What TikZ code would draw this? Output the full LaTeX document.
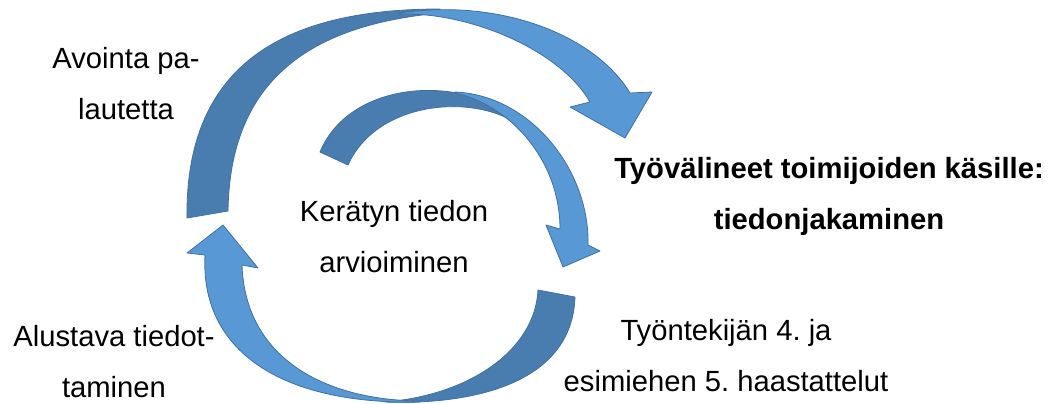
\documentclass[tikz,border=0pt]{standalone}
\usepackage{fontspec}
\setmainfont{Liberation Sans}
\frenchspacing
\definecolor{backblue}{RGB}{73,125,176}
\definecolor{frontblue}{RGB}{88,152,212}
\definecolor{edgeblue}{RGB}{65,113,160}

\begin{document}
\begin{tikzpicture}[x=0.5pt,y=-0.5pt,
  back/.style={fill=backblue,draw=edgeblue,line width=0.4pt,line join=round},
  front/.style={fill=frontblue,draw=edgeblue,line width=0.4pt,line join=round},
  lbl/.style={align=center,inner sep=0pt,font=\fontsize{14.6}{25.5}\selectfont}]
 \useasboundingbox (0,0) rectangle (1053,403);
 % big upper arrow
 \filldraw[back] (187,218) .. controls (185,60) and (290,9) .. (440,9)
   -- (440,13) .. controls (310,25) and (230,80) .. (228,211) -- cycle;
 \filldraw[front] (400,13) .. controls (500,-2) and (595,35) .. (630,93)
   -- (652,92) -- (625,138) -- (570,107) -- (590,102)
   .. controls (560,50) and (470,12) .. (400,14) -- cycle;
 % inner arrow
 \filldraw[back] (320,152) .. controls (350,80) and (460,75) .. (513,117)
   -- (507,118) .. controls (460,95) and (375,105) .. (348,165) -- cycle;
 \filldraw[front] (455,92) .. controls (530,95) and (590,170) .. (588,245)
   -- (600,251) -- (563,267) -- (546,225) -- (560,229)
   .. controls (560,160) and (510,105) .. (455,93) -- cycle;
 % lower arrow
 \filldraw[back] (575,297) .. controls (572,385) and (470,405) .. (385,402)
   .. controls (470,395) and (535,350) .. (538,290) -- cycle;
 \filldraw[front] (420,402) .. controls (280,405) and (200,350) .. (205,255)
   -- (187,253) -- (223,225) -- (258,268) -- (242,265)
   .. controls (245,355) and (320,400) .. (420,401) -- cycle;

 \node[lbl] (palaute) at (126,84) {Avointa pa-\\lautetta};
 \node[lbl] (tiedotus) at (114,362) {Alustava tiedot-\\taminen};
 \node[lbl] (arviointi) at (394,237) {Kerätyn tiedon\\arvioiminen};
 \node[lbl,font=\fontsize{14.6}{25.5}\selectfont\bfseries] (jakaminen) at (829,196) {Työvälineet toimijoiden käsille:\\tiedonjakaminen};
 \node[lbl] (haastattelut) at (726,356) {Työntekijän 4. ja\\esimiehen 5. haastattelut};
\end{tikzpicture}
\end{document}
